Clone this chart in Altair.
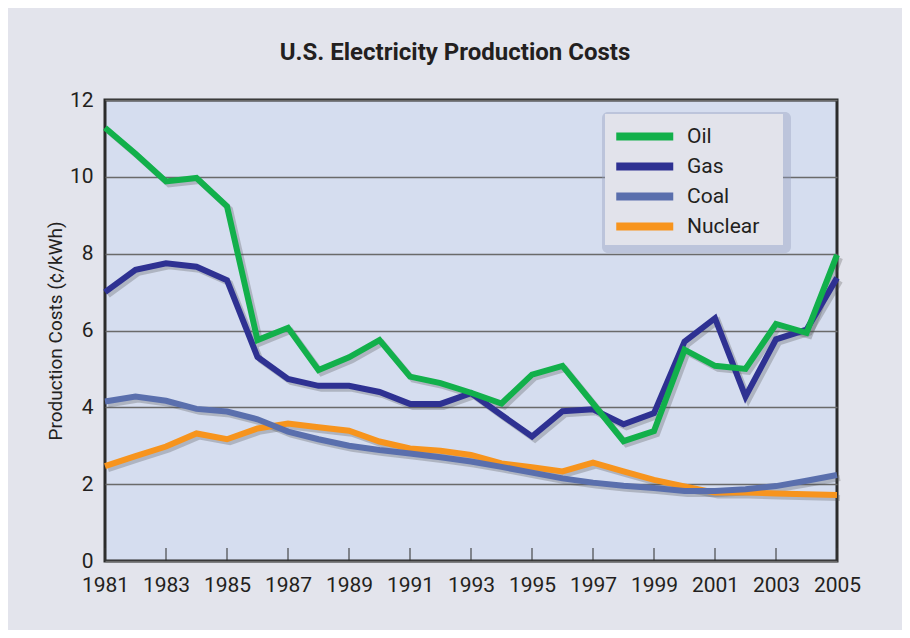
import altair as alt
import pandas as pd

years = list(range(1981, 2006))
oil = [11.28, 10.6, 9.88, 9.97, 9.23, 5.75, 6.07, 4.97, 5.3, 5.75, 4.8, 4.63, 4.38, 4.1,
       4.85, 5.08, 4.1, 3.12, 3.38, 5.5, 5.08, 5.0, 6.17, 5.94, 7.97]
gas = [7.0, 7.58, 7.75, 7.66, 7.31, 5.31, 4.74, 4.56, 4.56, 4.4, 4.09, 4.09, 4.37, 3.8,
       3.24, 3.9, 3.95, 3.56, 3.85, 5.71, 6.32, 4.28, 5.77, 6.02, 7.37]
coal = [4.15, 4.28, 4.17, 3.96, 3.89, 3.69, 3.37, 3.17, 3.0, 2.89, 2.8, 2.7, 2.59, 2.45,
        2.3, 2.15, 2.04, 1.96, 1.9, 1.82, 1.82, 1.87, 1.95, 2.09, 2.24]
nuclear = [2.47, 2.73, 2.98, 3.32, 3.17, 3.45, 3.58, 3.48, 3.39, 3.11, 2.93, 2.87, 2.76, 2.54,
           2.44, 2.33, 2.56, 2.33, 2.11, 1.94, 1.78, 1.78, 1.76, 1.74, 1.72]

series_names = ["Oil", "Gas", "Coal", "Nuclear"]
series_colors = ["#12b04b", "#2e3192", "#5a6fad", "#f7941d"]
draw_order = ["Nuclear", "Coal", "Gas", "Oil"]
values = {"Oil": oil, "Gas": gas, "Coal": coal, "Nuclear": nuclear}
tick_years = list(range(1981, 2006, 2))

rows = []
for name in draw_order:
    for yr, v in zip(years, values[name]):
        rows.append({"Year": yr, "Cost": v, "Source": name})
df = pd.DataFrame(rows)
ticks_df = pd.DataFrame({"Year": tick_years})
one = pd.DataFrame({"k": [0]})

FONT = "Roboto"
TXT = "#231f20"

x_enc = alt.X("Year:Q",
              scale=alt.Scale(domain=[1981, 2005], nice=False, zero=False),
              axis=alt.Axis(values=tick_years, format="d", ticks=False, domain=False,
                            grid=False, labelFontSize=21, labelFont=FONT, labelColor=TXT,
                            labelPadding=13, title=None, labelFlush=False))
y_enc = alt.Y("Cost:Q",
              scale=alt.Scale(domain=[0, 12], nice=False),
              axis=alt.Axis(values=[0, 2, 4, 6, 8, 10, 12], ticks=False, domain=False,
                            grid=True, gridColor="#6a6a6a", gridWidth=1.5, gridOpacity=1,
                            labelFontSize=21, labelFont=FONT, labelColor=TXT, labelPadding=12,
                            title="Production Costs (¢/kWh)", titleFont=FONT,
                            titleFontSize=19, titleFontWeight="normal", titleColor=TXT,
                            titlePadding=4))

# legend box (decoration behind the legend)
legend_shadow = alt.Chart(one).mark_rect(color="#97a1bd", opacity=0.4, cornerRadius=6).encode(
    x=alt.value(497), x2=alt.value(686), y=alt.value(12), y2=alt.value(153))
legend_box = alt.Chart(one).mark_rect(color="#e2e3eb").encode(
    x=alt.value(500), x2=alt.value(678), y=alt.value(14), y2=alt.value(145))

shadow = alt.Chart(df).mark_line(strokeWidth=6, color="#4a4a4a", opacity=0.28,
                                 xOffset=3, yOffset=3).encode(
    x=x_enc, y=y_enc, detail="Source:N")

lines = alt.Chart(df).mark_line(strokeWidth=6).encode(
    x=x_enc, y=y_enc,
    color=alt.Color("Source:N",
                    scale=alt.Scale(domain=series_names, range=series_colors),
                    legend=alt.Legend(title=None, orient="none", legendX=500, legendY=11,
                                      padding=12,
                                      symbolType="M-1.5,0H4.5", symbolSize=361,
                                      symbolStrokeWidth=8, labelOffset=43,
                                      labelFontSize=21, labelFont=FONT, labelColor=TXT,
                                      rowPadding=-3)),
)

ticks = alt.Chart(ticks_df).mark_tick(orient="vertical", size=13, thickness=1.5,
                                       color="#333333", yOffset=-6.5).encode(
    x=alt.X("Year:Q"), y=alt.datum(0))

chart = alt.layer(legend_shadow, legend_box, shadow, lines, ticks).properties(
    width=732, height=461,
    autosize=alt.AutoSizeParams(type="none"),
    padding={"left": 97, "top": 92, "right": 65, "bottom": 69},
    title=alt.TitleParams("U.S. Electricity Production Costs", font=FONT, fontSize=24,
                          fontWeight="bold", color=TXT, anchor="middle", frame="group",
                          baseline="alphabetic", offset=5, dx=-16),
).configure(background="#e3e4ec").configure_view(
    fill="#d5ddef", stroke="#2b2b2b", strokeWidth=3)

chart.save("out.html", embed_options={"renderer": "svg", "actions": False})
